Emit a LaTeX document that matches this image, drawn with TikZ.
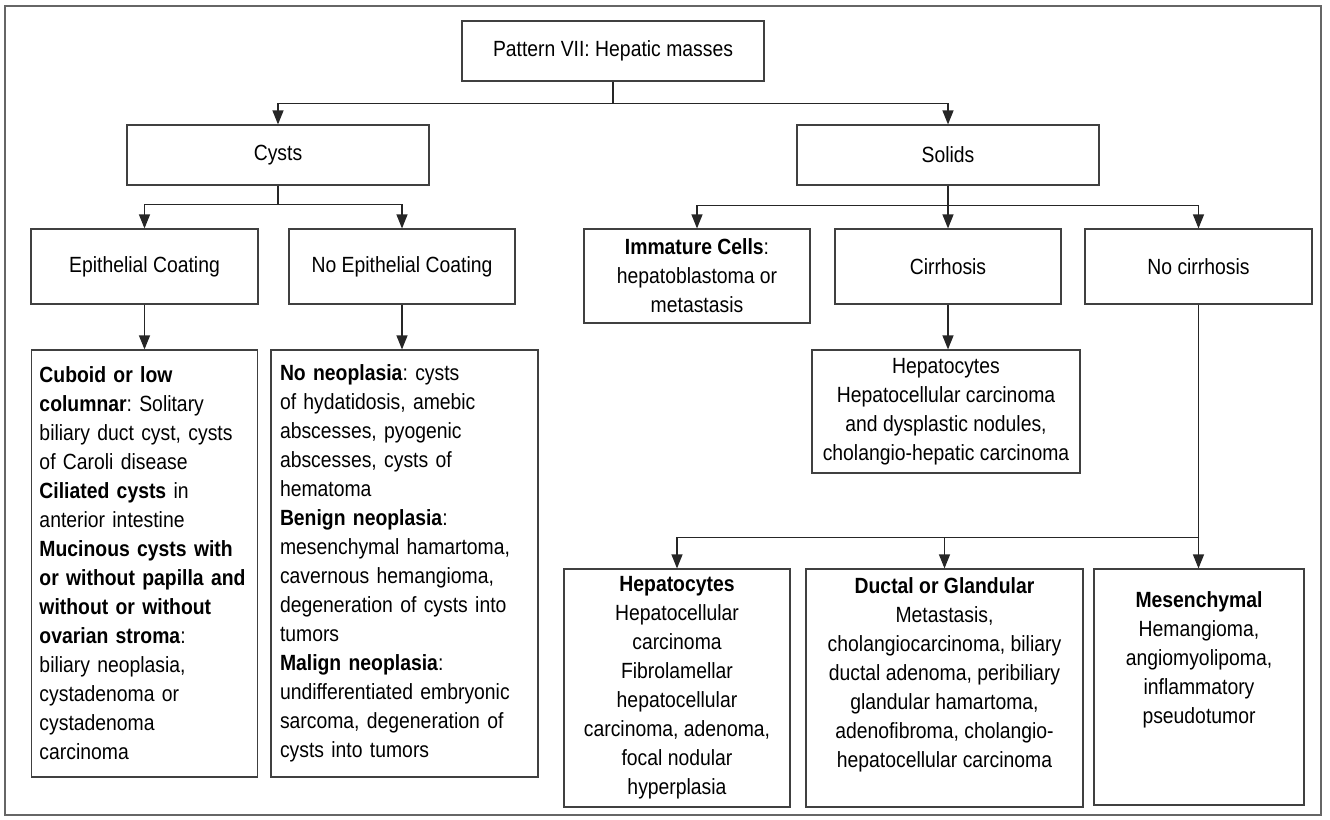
\documentclass[tikz,border=0pt]{standalone}
\usepackage{fontspec}
\setmainfont{Liberation Sans}[FakeStretch=0.88]
\usepackage{tikz}
\usetikzlibrary{arrows.meta, positioning}
\frenchspacing
\tikzset{
    boxnode/.style = {draw=black!75, line width=0.6pt, rectangle, inner sep=2pt, node distance=0em,
      font=\fontsize{11}{14.5}\selectfont, align=center},
    textnode/.style = {draw=none, fill=none, rectangle, inner sep=0em, node distance=0em,
      font=\fontsize{11}{14.5}\selectfont, align=center},
    connect/.style = {black!85, line width=0.6pt, -{Triangle[length=7pt, width=5.5pt]}}
}

\begin{document}
\begin{tikzpicture}
    \useasboundingbox (0,0) rectangle (665pt,-410pt);
    \draw [black!60, line width=0.6pt] (2.5pt,-3pt) rectangle (660.5pt,-407.5pt);

    \node [name=root, boxnode, minimum width=151pt, minimum height=30pt] at (306.5pt,-25.5pt) {Pattern VII: Hepatic masses};

    % first split
    \node [name=cysts, boxnode, minimum width=151pt, minimum height=30pt, 
        below of = root, xshift=-167.5pt, yshift=-52pt] {Cysts};
    \node [name=solids, boxnode, minimum width=151pt, minimum height=30pt, 
        below of = root, xshift=167.5pt, yshift=-52pt] {Solids};
    \draw [connect] (root.south) -- ++(0,-11pt) -| (cysts.north);
    \draw [connect] (root.south) -- ++(0,-11pt) -| (solids.north);

    % cysts
    \node [name=epi, boxnode, minimum width=113.5pt, minimum height=37.5pt, 
        below of = cysts, xshift=-66.75pt, yshift=-55.75pt] {Epithelial Coating};
    \node [name=noepi, boxnode, minimum width=113pt, minimum height=37.5pt, 
        below of = cysts, xshift=62pt, yshift=-55.75pt] {No Epithelial Coating};
    \draw [connect] (cysts.south) -- ++(0,-9.5pt) -| (epi.north);
    \draw [connect] (cysts.south) -- ++(0,-9.5pt) -| (noepi.north);

    \node [name=epitext, boxnode, align=left, text width=105pt, inner xsep=4pt, minimum height=213.5pt, 
        below of = epi, yshift=-148.5pt] {\textbf{Cuboid or low}\\\textbf{columnar}: Solitary\\biliary duct cyst, cysts\\of Caroli disease\\
        \textbf{Ciliated cysts} in\\anterior intestine\\\textbf{Mucinous cysts with}\\\textbf{or without papilla and}\\
        \textbf{without or without}\\\textbf{ovarian stroma}:\\biliary neoplasia,\\cystadenoma or\\cystadenoma\\carcinoma};
    \node [name=noepitext, boxnode, align=left, text width=124.5pt, inner xsep=4.5pt, minimum height=213.5pt, 
        below of = noepi, xshift=1.25pt, yshift=-148.5pt] {\textbf{No neoplasia}: cysts\\of hydatidosis, amebic\\abscesses, pyogenic\\
        abscesses, cysts of\\hematoma\\\textbf{Benign neoplasia}:\\mesenchymal hamartoma,\\cavernous hemangioma,\\
        degeneration of cysts into\\tumors\\\textbf{Malign neoplasia}:\\undifferentiated embryonic\\sarcoma, degeneration of\\cysts into tumors};
    \draw [connect] (epi.south) -- (epitext.north);
    \draw [connect] (noepi.south) -- (noepi.south |- noepitext.north);

    % solids
    \node [name=immature, boxnode, minimum width=113pt, minimum height=47pt, 
        below of = solids, xshift=-125.5pt, yshift=-60.5pt] {\textbf{Immature Cells}:\\hepatoblastoma or\\metastasis};
    \node [name=cirrhosis, boxnode, minimum width=113pt, minimum height=37.5pt, 
        below of = solids, yshift=-55.75pt] {Cirrhosis};
    \node [name=nocirrhosis, boxnode, minimum width=113.5pt, minimum height=37.5pt, 
        below of = solids, xshift=125.25pt, yshift=-55.75pt] {No cirrhosis};
    \draw [connect] (solids.south) -- ++(0,-10pt) -| (immature.north);
    \draw [connect] (solids.south) -- ++(0,-10pt) -| (cirrhosis.north);
    \draw [connect] (solids.south) -- ++(0,-10pt) -| (nocirrhosis.north);

    \node [name=cirtext, boxnode, minimum width=134pt, minimum height=61.5pt, 
        below of = cirrhosis, xshift=-1pt, yshift=-72.5pt] {Hepatocytes\\Hepatocellular carcinoma\\and dysplastic nodules,\\cholangio-hepatic carcinoma};
    \draw [connect] (cirrhosis.south) -- (cirrhosis.south |- cirtext.north);

    % no cirrhosis
    \node [name=hepato, boxnode, minimum width=113pt, minimum height=119pt, inner ysep=1pt, 
        below of = cirtext, xshift=-134.5pt, yshift=-138.25pt] {\textbf{Hepatocytes}\\Hepatocellular\\carcinoma\\Fibrolamellar\\
        hepatocellular\\carcinoma, adenoma,\\focal nodular\\hyperplasia};
    \node [name=ductal, boxnode, minimum width=138.5pt, minimum height=119pt, 
        below of = cirtext, xshift=-0.75pt, yshift=-138.25pt] {};
    \node [name=ductaltext, textnode, below of = ductal, yshift=6.5pt] {\textbf{Ductal or Glandular}\\Metastasis,\\
        cholangiocarcinoma, biliary\\ductal adenoma, peribiliary\\glandular hamartoma,\\adenofibroma, cholangio-\\hepatocellular carcinoma};
    \node [name=mesen, boxnode, minimum width=105pt, minimum height=118pt, 
        below of = nocirrhosis, xshift=0.25pt, yshift=-210.25pt] {};
    \node [name=mesentext, textnode, below of = mesen, yshift=13.5pt] {\textbf{Mesenchymal}\\Hemangioma,\\angiomyolipoma,\\inflammatory\\pseudotumor};

    \coordinate (split) at ([yshift=15.5pt]mesen.north);
    \draw [connect] (nocirrhosis.south) -- (nocirrhosis.south |- mesen.north);
    \draw [connect] (split) -| (hepato.north);
    \draw [connect] (split) -| (ductal.north);
\end{tikzpicture}
\end{document}
